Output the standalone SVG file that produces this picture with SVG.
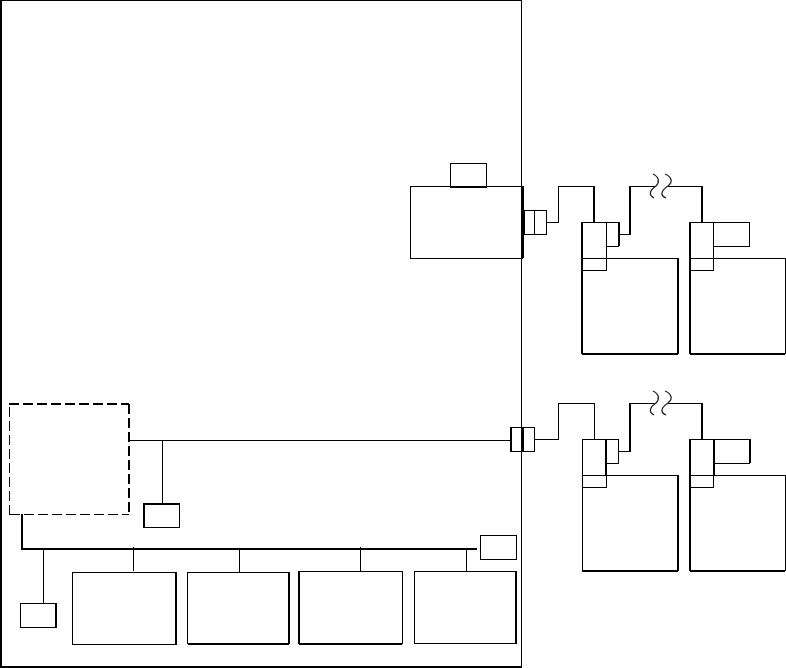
<svg xmlns="http://www.w3.org/2000/svg" width="786" height="668" viewBox="0 0 786 668">
<style>
.b{fill:none;stroke:#000;stroke-width:1;shape-rendering:crispEdges}
.t{fill:none;stroke:#000;stroke-width:2;shape-rendering:crispEdges}
.w{fill:none;stroke:#000;stroke-width:2;shape-rendering:crispEdges}
.d{fill:none;stroke:#000;stroke-dasharray:10 4;shape-rendering:crispEdges}
.s{fill:none;stroke:#222;stroke-width:1.300}
</style>
<rect width="786" height="668" fill="#fff"/>
<g id="frame"><path class="b" d="M1 .5H521.500V666"/><path class="t" d="M1 0V667H522"/></g>
<g id="host">
<rect class="b" x="410.500" y="186.500" width="112" height="72"/>
<path class="w" d="M523 186V258"/>
</g>
<g id="host-top"><rect class="b" x="450.500" y="163.500" width="36" height="23"/><path class="t" d="M450 187H487"/></g>
<g id="port-upper"><rect class="b" x="524.500" y="210.500" width="22" height="24"/><path class="b" d="M534.500 210V234"/></g>
<g id="port-lower"><rect class="b" x="510.500" y="427.500" width="24" height="24"/><path class="t" d="M511 427V451M523 427V451"/></g>
<g id="unit-a1">
<rect class="b" x="582.500" y="258.500" width="95" height="95"/>
<path class="t" d="M582 222V354M582 354H678M678 258V354"/>
<rect class="b" x="582.500" y="222.500" width="24" height="36"/>
<rect class="b" x="582.500" y="258.500" width="24" height="12"/>
<rect class="b" x="606.500" y="222.500" width="12" height="24"/>
<path class="t" d="M619 222V246"/>
</g>
<g id="unit-b1">
<rect class="b" x="690.500" y="258.500" width="95" height="95"/>
<path class="t" d="M690 222V354M690 354H785"/>
<rect class="b" x="690.500" y="222.500" width="23" height="36"/>
<rect class="b" x="690.500" y="258.500" width="23" height="12"/>
<rect class="b" x="713.500" y="222.500" width="36" height="24"/>
</g>
<g id="unit-a2">
<rect class="b" x="582.500" y="475.500" width="95" height="95"/>
<path class="t" d="M582 571H678M678 475V571"/>
<rect class="b" x="582.500" y="439.500" width="24" height="36"/>
<rect class="b" x="582.500" y="475.500" width="24" height="12"/>
<path class="t" d="M606 439V475"/>
<rect class="b" x="606.500" y="439.500" width="12" height="24"/>
</g>
<g id="unit-b2">
<rect class="b" x="690.500" y="475.500" width="95" height="95"/>
<path class="t" d="M690 439V571M690 571H785M714 439V475"/>
<rect class="b" x="690.500" y="439.500" width="23" height="36"/>
<rect class="b" x="690.500" y="475.500" width="23" height="12"/>
<rect class="b" x="713.500" y="439.500" width="36" height="24"/>
<path class="t" d="M750 439V463"/>
</g>
<g id="controller">
<path class="d" d="M9.500 514.500V404.500"/>
<path class="d" style="stroke-width:2" d="M9 404H129"/>
<path class="d" style="stroke-width:2" d="M129 404V514"/>
<path class="d" d="M10 514.500H129"/>
</g>
<g id="box-mid"><rect class="b" x="143.500" y="503.500" width="36" height="24"/><path class="t" d="M144 503V527M144 504H179"/></g>
<g id="box-left"><rect class="b" x="20.500" y="603.500" width="36" height="24"/><path class="t" d="M56 603V628"/></g>
<g id="box-right"><rect class="b" x="480.500" y="535.500" width="36" height="24"/></g>
<g id="drive-1"><rect class="b" x="72.500" y="572.500" width="103" height="72"/><path class="t" d="M176 572V645"/></g>
<g id="drive-2"><rect class="b" x="187.500" y="572.500" width="101" height="71"/><path class="t" d="M188 644H289M289 572V644"/></g>
<g id="drive-3"><rect class="b" x="299.500" y="571.500" width="103" height="72"/><path class="t" d="M299 571V644M299 644H402"/></g>
<g id="drive-4"><rect class="b" x="414.500" y="571.500" width="102" height="72"/><path class="t" d="M516 571V643"/></g>
<g id="connectors">
<path class="b" d="M546 222.500H558.500V186.500H594"/>
<path class="t" d="M594 186V222"/>
<path class="b" d="M619 234.500H630"/>
<path class="t" d="M630 235V186"/>
<path class="b" d="M630 186.500H656M668 186.500H702"/>
<path class="t" d="M702 186V222"/>
<path class="b" d="M129 440.500H510M162.500 440V503"/>
<path class="b" d="M534 439.500H558.500V403.500H594.500V439"/>
<path class="b" d="M619 451.500H630"/>
<path class="t" d="M630 452V403"/>
<path class="b" d="M630 403.500H656M668 403.500H702"/>
<path class="t" d="M702 403V439"/>
<path class="t" d="M22 514V549H477"/>
<path class="b" d="M43.500 549V603M133.500 547V571M239.500 549V572M360.500 547V571M466.500 549V572"/>
<path class="s" d="M653 174C659 177 660 182 656 186C650 190 648 195 654 198M665 174C672 177 673 182 668 186C662 190 659 195 666 198"/>
<path class="s" d="M653 391C659 394 660 399 656 403C650 407 648 412 654 415M665 391C672 394 673 399 668 403C662 407 659 412 666 415"/>
</g>
</svg>
